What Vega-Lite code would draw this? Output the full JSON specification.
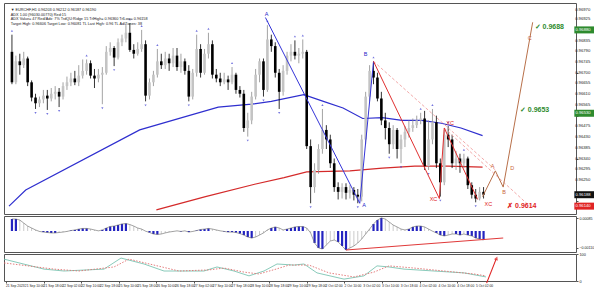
{
"$schema":"https://vega.github.io/schema/vega-lite/v6.json",
"background":"white",
"padding":{"left":1,"top":2,"right":0,"bottom":0},
"spacing":2,
"bounds":"flush",
"config":{"view":{"stroke":"#555","strokeWidth":1},"font":"Liberation Sans","axis":{"labelFont":"Liberation Sans","labelColor":"#222","domainColor":"#555","tickColor":"#555","labelOverlap":false,"labelFlush":false}},
"datasets":{
"bars":[
{"i":0,"o":0.96788,"h":0.9686,"l":0.96652,"c":0.9666,"m":0.0008},
{"i":1,"o":0.9666,"h":0.96772,"l":0.96652,"c":0.96748,"m":0.0008},
{"i":2,"o":0.96748,"h":0.9678,"l":0.96692,"c":0.96732,"m":0.00073},
{"i":3,"o":0.96732,"h":0.96788,"l":0.9672,"c":0.9676,"m":0.00053},
{"i":4,"o":0.9676,"h":0.96768,"l":0.96644,"c":0.9666,"m":0.00033},
{"i":5,"o":0.9666,"h":0.96668,"l":0.9658,"c":0.96596,"m":0.0002},
{"i":6,"o":0.96596,"h":0.96612,"l":0.96548,"c":0.96572,"m":0.00007},
{"i":7,"o":0.96572,"h":0.966,"l":0.96556,"c":0.96588,"m":-0.00003},
{"i":8,"o":0.96588,"h":0.96628,"l":0.96572,"c":0.96604,"m":-0.00007},
{"i":9,"o":0.96604,"h":0.96628,"l":0.96544,"c":0.96592,"m":-0.0001},
{"i":10,"o":0.96592,"h":0.96636,"l":0.9658,"c":0.96612,"m":-0.00013},
{"i":11,"o":0.96612,"h":0.96644,"l":0.96588,"c":0.9662,"m":-0.00013},
{"i":12,"o":0.9662,"h":0.96636,"l":0.96556,"c":0.966,"m":-0.0001},
{"i":13,"o":0.966,"h":0.9666,"l":0.96588,"c":0.96644,"m":-0.00007},
{"i":14,"o":0.96644,"h":0.96684,"l":0.96628,"c":0.9666,"m":-0.00003},
{"i":15,"o":0.9666,"h":0.967,"l":0.96644,"c":0.96676,"m":0.00003},
{"i":16,"o":0.96676,"h":0.96708,"l":0.96648,"c":0.9666,"m":0.00007},
{"i":17,"o":0.9666,"h":0.96732,"l":0.96644,"c":0.96688,"m":0.00013},
{"i":18,"o":0.96688,"h":0.96756,"l":0.96676,"c":0.96708,"m":0.00017},
{"i":19,"o":0.96708,"h":0.96756,"l":0.96692,"c":0.9674,"m":0.00017},
{"i":20,"o":0.9674,"h":0.96752,"l":0.96676,"c":0.96688,"m":0.00013},
{"i":21,"o":0.96688,"h":0.96716,"l":0.96636,"c":0.96676,"m":0.00007},
{"i":22,"o":0.96676,"h":0.96716,"l":0.9666,"c":0.96692,"m":0.00001},
{"i":23,"o":0.96692,"h":0.96724,"l":0.96568,"c":0.967,"m":0.00007},
{"i":24,"o":0.967,"h":0.96812,"l":0.96692,"c":0.96788,"m":0.0002},
{"i":25,"o":0.96788,"h":0.96828,"l":0.96772,"c":0.96804,"m":0.0003},
{"i":26,"o":0.96804,"h":0.96812,"l":0.96728,"c":0.96764,"m":0.00033},
{"i":27,"o":0.96764,"h":0.96844,"l":0.96756,"c":0.96828,"m":0.0004},
{"i":28,"o":0.96828,"h":0.9686,"l":0.96812,"c":0.96844,"m":0.00047},
{"i":29,"o":0.96844,"h":0.969,"l":0.96828,"c":0.96868,"m":0.0005},
{"i":30,"o":0.96868,"h":0.96908,"l":0.96788,"c":0.96796,"m":0.00043},
{"i":31,"o":0.96796,"h":0.9682,"l":0.9676,"c":0.9678,"m":0.00033},
{"i":32,"o":0.9678,"h":0.96828,"l":0.96772,"c":0.968,"m":0.0002},
{"i":33,"o":0.968,"h":0.9688,"l":0.96788,"c":0.9682,"m":0.00013},
{"i":34,"o":0.9682,"h":0.96836,"l":0.9658,"c":0.96604,"m":-0.00001},
{"i":35,"o":0.96604,"h":0.96676,"l":0.96588,"c":0.9666,"m":-0.0001},
{"i":36,"o":0.9666,"h":0.96708,"l":0.96644,"c":0.96692,"m":-0.0002},
{"i":37,"o":0.96692,"h":0.968,"l":0.9668,"c":0.96748,"m":-0.00023},
{"i":38,"o":0.96748,"h":0.9678,"l":0.96716,"c":0.96732,"m":-0.0002},
{"i":39,"o":0.96732,"h":0.96788,"l":0.96716,"c":0.9676,"m":-0.00013},
{"i":40,"o":0.9676,"h":0.9678,"l":0.96708,"c":0.9674,"m":-0.00007},
{"i":41,"o":0.9674,"h":0.96804,"l":0.96724,"c":0.96772,"m":-0.00003},
{"i":42,"o":0.96772,"h":0.96804,"l":0.96708,"c":0.96724,"m":0.00001},
{"i":43,"o":0.96724,"h":0.9678,"l":0.967,"c":0.96748,"m":-0.00003},
{"i":44,"o":0.96748,"h":0.9676,"l":0.96692,"c":0.96708,"m":0.00001},
{"i":45,"o":0.96708,"h":0.96732,"l":0.9658,"c":0.966,"m":-0.00007},
{"i":46,"o":0.966,"h":0.96716,"l":0.96588,"c":0.967,"m":-0.00003},
{"i":47,"o":0.967,"h":0.9686,"l":0.96684,"c":0.968,"m":0.00003},
{"i":48,"o":0.968,"h":0.9682,"l":0.9668,"c":0.967,"m":0.0001},
{"i":49,"o":0.967,"h":0.968,"l":0.96692,"c":0.9678,"m":0.00013},
{"i":50,"o":0.9678,"h":0.96868,"l":0.9676,"c":0.9682,"m":0.00017},
{"i":51,"o":0.9682,"h":0.96836,"l":0.96676,"c":0.96692,"m":0.00013},
{"i":52,"o":0.96692,"h":0.96716,"l":0.9666,"c":0.96676,"m":0.00007},
{"i":53,"o":0.96676,"h":0.967,"l":0.96644,"c":0.9666,"m":0.00001},
{"i":54,"o":0.9666,"h":0.967,"l":0.96652,"c":0.96672,"m":-0.00003},
{"i":55,"o":0.96672,"h":0.96688,"l":0.96628,"c":0.9666,"m":-0.00007},
{"i":56,"o":0.9666,"h":0.96724,"l":0.96652,"c":0.96692,"m":-0.00007},
{"i":57,"o":0.96692,"h":0.967,"l":0.96612,"c":0.96628,"m":-0.0001},
{"i":58,"o":0.96628,"h":0.96644,"l":0.96596,"c":0.96612,"m":-0.00017},
{"i":59,"o":0.96612,"h":0.96628,"l":0.96452,"c":0.96468,"m":-0.00027},
{"i":60,"o":0.96468,"h":0.96532,"l":0.96432,"c":0.965,"m":-0.0004},
{"i":61,"o":0.965,"h":0.9662,"l":0.96484,"c":0.966,"m":-0.00047},
{"i":62,"o":0.966,"h":0.96716,"l":0.96588,"c":0.96692,"m":-0.0004},
{"i":63,"o":0.96692,"h":0.9676,"l":0.9666,"c":0.96748,"m":-0.00027},
{"i":64,"o":0.96748,"h":0.9676,"l":0.966,"c":0.96628,"m":-0.00013},
{"i":65,"o":0.96628,"h":0.969,"l":0.9662,"c":0.9684,"m":0.00007},
{"i":66,"o":0.9684,"h":0.9686,"l":0.96788,"c":0.96812,"m":0.0002},
{"i":67,"o":0.96812,"h":0.96828,"l":0.9668,"c":0.967,"m":0.00027},
{"i":68,"o":0.967,"h":0.96716,"l":0.96548,"c":0.9662,"m":0.0002},
{"i":69,"o":0.9662,"h":0.96732,"l":0.96604,"c":0.96708,"m":0.00007},
{"i":70,"o":0.96708,"h":0.96788,"l":0.96692,"c":0.96772,"m":0.00013},
{"i":71,"o":0.96772,"h":0.9682,"l":0.96748,"c":0.96788,"m":0.0002},
{"i":72,"o":0.96788,"h":0.96836,"l":0.96756,"c":0.96772,"m":0.00027},
{"i":73,"o":0.96772,"h":0.96804,"l":0.9674,"c":0.9678,"m":0.0003},
{"i":74,"o":0.9678,"h":0.9684,"l":0.9676,"c":0.96788,"m":0.0003},
{"i":75,"o":0.96788,"h":0.96796,"l":0.9638,"c":0.96392,"m":0.0002},
{"i":76,"o":0.96392,"h":0.9642,"l":0.96152,"c":0.9622,"m":-0.00013},
{"i":77,"o":0.9622,"h":0.9632,"l":0.96196,"c":0.96292,"m":-0.0008},
{"i":78,"o":0.96292,"h":0.964,"l":0.96276,"c":0.9638,"m":-0.00113},
{"i":79,"o":0.9638,"h":0.96548,"l":0.9636,"c":0.9646,"m":-0.0012},
{"i":80,"o":0.9646,"h":0.9648,"l":0.9638,"c":0.9642,"m":-0.00093},
{"i":81,"o":0.9642,"h":0.9644,"l":0.963,"c":0.9632,"m":-0.00067},
{"i":82,"o":0.9632,"h":0.9634,"l":0.962,"c":0.9622,"m":-0.0006},
{"i":83,"o":0.9622,"h":0.9624,"l":0.96168,"c":0.962,"m":-0.00073},
{"i":84,"o":0.962,"h":0.96236,"l":0.96172,"c":0.9622,"m":-0.001},
{"i":85,"o":0.9622,"h":0.96236,"l":0.96168,"c":0.96196,"m":-0.00127},
{"i":86,"o":0.96196,"h":0.96228,"l":0.96172,"c":0.96208,"m":-0.00113},
{"i":87,"o":0.96208,"h":0.9622,"l":0.96164,"c":0.96188,"m":-0.001},
{"i":88,"o":0.96188,"h":0.96212,"l":0.96152,"c":0.9618,"m":-0.0008},
{"i":89,"o":0.9618,"h":0.9644,"l":0.9616,"c":0.9642,"m":-0.00053},
{"i":90,"o":0.9642,"h":0.9662,"l":0.964,"c":0.966,"m":-0.0002},
{"i":91,"o":0.966,"h":0.96732,"l":0.9658,"c":0.96708,"m":0.00013},
{"i":92,"o":0.96708,"h":0.96748,"l":0.96652,"c":0.9668,"m":0.00047},
{"i":93,"o":0.9668,"h":0.967,"l":0.9658,"c":0.96592,"m":0.00073},
{"i":94,"o":0.96592,"h":0.9662,"l":0.9648,"c":0.965,"m":0.00087},
{"i":95,"o":0.965,"h":0.96532,"l":0.9642,"c":0.96468,"m":0.0008},
{"i":96,"o":0.96468,"h":0.96492,"l":0.9636,"c":0.964,"m":0.0006},
{"i":97,"o":0.964,"h":0.9648,"l":0.9638,"c":0.9646,"m":0.0004},
{"i":98,"o":0.9646,"h":0.96468,"l":0.9634,"c":0.9638,"m":0.00027},
{"i":99,"o":0.9638,"h":0.9644,"l":0.9632,"c":0.9642,"m":0.00013},
{"i":100,"o":0.9642,"h":0.96476,"l":0.96388,"c":0.96452,"m":0.00007},
{"i":101,"o":0.96452,"h":0.965,"l":0.96428,"c":0.96468,"m":0.00013},
{"i":102,"o":0.96468,"h":0.96508,"l":0.96452,"c":0.9648,"m":0.00027},
{"i":103,"o":0.9648,"h":0.9652,"l":0.96468,"c":0.965,"m":0.00033},
{"i":104,"o":0.965,"h":0.96532,"l":0.96484,"c":0.96508,"m":0.00033},
{"i":105,"o":0.96508,"h":0.9654,"l":0.96292,"c":0.96308,"m":0.00027},
{"i":106,"o":0.96308,"h":0.965,"l":0.96292,"c":0.9642,"m":0.00013},
{"i":107,"o":0.9642,"h":0.96548,"l":0.964,"c":0.96492,"m":-0.00001},
{"i":108,"o":0.96492,"h":0.9652,"l":0.963,"c":0.9632,"m":-0.00013},
{"i":109,"o":0.9632,"h":0.9634,"l":0.9618,"c":0.9624,"m":-0.00027},
{"i":110,"o":0.9624,"h":0.9646,"l":0.96228,"c":0.9644,"m":-0.00033},
{"i":111,"o":0.9644,"h":0.96476,"l":0.96388,"c":0.9642,"m":-0.00027},
{"i":112,"o":0.9642,"h":0.9644,"l":0.963,"c":0.9632,"m":-0.0002},
{"i":113,"o":0.9632,"h":0.96372,"l":0.96292,"c":0.9634,"m":-0.0002},
{"i":114,"o":0.9634,"h":0.9636,"l":0.9628,"c":0.9632,"m":-0.00027},
{"i":115,"o":0.9632,"h":0.9636,"l":0.963,"c":0.9634,"m":-0.0002},
{"i":116,"o":0.9634,"h":0.96348,"l":0.96212,"c":0.96228,"m":-0.00027},
{"i":117,"o":0.96228,"h":0.9624,"l":0.96172,"c":0.96188,"m":-0.00033},
{"i":118,"o":0.96188,"h":0.96212,"l":0.96156,"c":0.96172,"m":-0.00047},
{"i":119,"o":0.96172,"h":0.9622,"l":0.96164,"c":0.962,"m":-0.00053},
{"i":120,"o":0.962,"h":0.9622,"l":0.96172,"c":0.96188,"m":-0.0006}
],
"maB":[{"i":-0.75,"p":0.9614},{"i":3.5,"p":0.96208},{"i":32.5,"p":0.9646},{"i":45,"p":0.9652},{"i":52.5,"p":0.96556},{"i":61,"p":0.96568},{"i":66,"p":0.9658},{"i":74.25,"p":0.96608},{"i":79.25,"p":0.9658},{"i":84.25,"p":0.96552},{"i":89.25,"p":0.96508},{"i":94.25,"p":0.96512},{"i":99.25,"p":0.965},{"i":104.25,"p":0.965},{"i":109.25,"p":0.96488},{"i":114.25,"p":0.96468},{"i":119.75,"p":0.96436}],
"maR":[{"i":36.75,"p":0.96124},{"i":49.25,"p":0.9618},{"i":61.75,"p":0.96232},{"i":69.25,"p":0.9626},{"i":75,"p":0.96284},{"i":86,"p":0.96288},{"i":94.25,"p":0.963},{"i":102.5,"p":0.96308},{"i":111,"p":0.96308},{"i":119.75,"p":0.96304}],
"zigB":[{"i":64.5,"p":0.96932},{"i":88.5,"p":0.96152},{"i":92,"p":0.96748}],
"zigR":[{"i":92,"p":0.96748},{"i":108.75,"p":0.96172},{"i":110,"p":0.96468},{"i":118.5,"p":0.96168}],
"dash":[{"g":1,"i":92,"p":0.96748},{"g":1,"i":123,"p":0.96292},{"g":2,"i":110,"p":0.96468},{"g":2,"i":131.75,"p":0.9614}],
"proj":[{"i":119.75,"p":0.9618},{"i":123,"p":0.96288},{"i":125,"p":0.9622},{"i":132.5,"p":0.96912}],
"frac":[
{"i":0,"p":0.9686,"d":"up"},{"i":19,"p":0.96756,"d":"up"},{"i":30,"p":0.96908,"d":"up"},{"i":33,"p":0.9688,"d":"up"},{"i":37,"p":0.968,"d":"up"},{"i":47,"p":0.9686,"d":"up"},{"i":50,"p":0.96868,"d":"up"},{"i":56,"p":0.96724,"d":"up"},{"i":65,"p":0.969,"d":"up"},{"i":72,"p":0.96836,"d":"up"},{"i":74,"p":0.9684,"d":"up"},{"i":79,"p":0.96548,"d":"up"},{"i":92,"p":0.96748,"d":"up"},{"i":104,"p":0.96532,"d":"up"},{"i":107,"p":0.96548,"d":"up"},{"i":111,"p":0.96476,"d":"up"},{"i":115,"p":0.9636,"d":"up"},
{"i":6,"p":0.96548,"d":"dn"},{"i":9,"p":0.96544,"d":"dn"},{"i":12,"p":0.96556,"d":"dn"},{"i":23,"p":0.96568,"d":"dn"},{"i":26,"p":0.96728,"d":"dn"},{"i":34,"p":0.9658,"d":"dn"},{"i":45,"p":0.9658,"d":"dn"},{"i":60,"p":0.96432,"d":"dn"},{"i":64,"p":0.966,"d":"dn"},{"i":68,"p":0.96548,"d":"dn"},{"i":76,"p":0.96152,"d":"dn"},{"i":88,"p":0.96152,"d":"dn"},{"i":96,"p":0.9636,"d":"dn"},{"i":99,"p":0.9632,"d":"dn"},{"i":106,"p":0.96292,"d":"dn"},{"i":109,"p":0.9618,"d":"dn"},{"i":118,"p":0.96156,"d":"dn"}],
"lbl":[{"i":64.8,"p":0.96946,"t":"A","k":"b"},{"i":89.6,"p":0.96146,"t":"A","k":"b"},{"i":90,"p":0.9678,"t":"B","k":"b"},{"i":107.25,"p":0.96168,"t":"XC","k":"r"},{"i":111.5,"p":0.96488,"t":"XC","k":"r"},{"i":121.2,"p":0.96148,"t":"XC","k":"r"},{"i":122.3,"p":0.96308,"t":"A","k":"o"},{"i":125.2,"p":0.962,"t":"B","k":"o"},{"i":127.3,"p":0.963,"t":"D","k":"o"},{"i":131.75,"p":0.96848,"t":"C","k":"o"}],
"plbl":[{"i":133,"p":0.96892,"t":"✓ 0.9688","k":"g"},{"i":129.25,"p":0.96544,"t":"✓ 0.9653","k":"g"},{"i":126,"p":0.9614,"t":"✗ 0.9614","k":"r"}],
"info":[{"i":-0.3,"p":0.96962,"t":"▼ EURCHF,H1 0.96203 0.96212 0.96187 0.96190"},{"i":-0.3,"p":0.96943,"t":"ADX 1.00 (96030.00770) Red:15"},{"i":-0.3,"p":0.96924,"t":"ADX Value= 47  Red/Adx: 7%  TrdQU:Ridge 15  TrlHigh= 0.96360  TrlLow= 0.96158"},{"i":-0.3,"p":0.96905,"t":"Target High: 0.96606  Target Low: 0.96081  TL Last High: 0.96  TL Ad/Zones: 38"}],
"tags":[{"p":0.9688,"t":"0.96880","k":"g"},{"p":0.9653,"t":"0.96530","k":"g"},{"p":0.96188,"t":"0.96188","k":"k"},{"p":0.9614,"t":"0.96140","k":"r"}],
"ylab":[{"p":0.9625,"t":"0.96250"},{"p":0.96295,"t":"0.96295"},{"p":0.9634,"t":"0.96340"},{"p":0.96385,"t":"0.96385"},{"p":0.9643,"t":"0.96430"},{"p":0.96475,"t":"0.96475"},{"p":0.96565,"t":"0.96565"},{"p":0.9661,"t":"0.96610"},{"p":0.96655,"t":"0.96655"},{"p":0.967,"t":"0.96700"},{"p":0.96745,"t":"0.96745"},{"p":0.9679,"t":"0.96790"},{"p":0.96835,"t":"0.96835"},{"p":0.96925,"t":"0.96925"},{"p":0.96965,"t":"0.96970"}],
"xlab":[{"i":-0.25,"t":"21 Sep 2023"},{"i":4.45,"t":"21 Sep 10:00"},{"i":9.15,"t":"21 Sep 18:00"},{"i":13.85,"t":"22 Sep 02:00"},{"i":18.55,"t":"22 Sep 10:00"},{"i":23.25,"t":"22 Sep 18:00"},{"i":27.95,"t":"25 Sep 10:00"},{"i":32.65,"t":"25 Sep 18:00"},{"i":37.35,"t":"26 Sep 10:00"},{"i":42.05,"t":"26 Sep 18:00"},{"i":46.75,"t":"27 Sep 02:00"},{"i":51.45,"t":"27 Sep 10:00"},{"i":56.15,"t":"27 Sep 18:00"},{"i":60.85,"t":"28 Sep 10:00"},{"i":65.55,"t":"28 Sep 18:00"},{"i":70.25,"t":"29 Sep 10:00"},{"i":74.95,"t":"29 Sep 18:00"},{"i":79.65,"t":"2 Oct 02:00"},{"i":84.35,"t":"2 Oct 10:00"},{"i":89.05,"t":"3 Oct 02:00"},{"i":93.75,"t":"3 Oct 10:00"},{"i":98.45,"t":"3 Oct 18:00"},{"i":103.15,"t":"4 Oct 02:00"},{"i":107.85,"t":"4 Oct 10:00"},{"i":112.55,"t":"4 Oct 18:00"},{"i":117.25,"t":"5 Oct 02:00"}],
"macdT":[{"i":85,"m":-0.00127},{"i":125,"m":-0.00047}],
"stK":[{"i":-0.75,"v":81},{"i":9.25,"v":44},{"i":14.25,"v":37},{"i":24.25,"v":44},{"i":28.5,"v":85},{"i":34.25,"v":63},{"i":39.25,"v":37},{"i":49.25,"v":37},{"i":52.5,"v":52},{"i":56.75,"v":37},{"i":60.5,"v":19},{"i":64.25,"v":37},{"i":67.5,"v":63},{"i":71.75,"v":59},{"i":74.25,"v":63},{"i":77.5,"v":30},{"i":84.25,"v":7},{"i":89.25,"v":19},{"i":92.5,"v":56},{"i":95.5,"v":52},{"i":99.25,"v":44},{"i":106.75,"v":37},{"i":114.25,"v":30},{"i":119.75,"v":15}],
"stD":[{"i":-0.75,"v":67},{"i":11.75,"v":44},{"i":18,"v":37},{"i":26.75,"v":52},{"i":30.5,"v":81},{"i":36.75,"v":59},{"i":43,"v":37},{"i":50.5,"v":41},{"i":54.25,"v":48},{"i":59.25,"v":33},{"i":63,"v":26},{"i":67.25,"v":44},{"i":70.5,"v":59},{"i":75.5,"v":59},{"i":80.5,"v":30},{"i":86.75,"v":15},{"i":91.75,"v":33},{"i":95.5,"v":56},{"i":101.75,"v":48},{"i":109.25,"v":37},{"i":116.75,"v":26},{"i":119.75,"v":19}],
"arrow":[{"i":119.9,"v":-8},{"i":122.3,"v":82}],
"arrowHead":[{"i":122.4,"v":84}]
},
"vconcat":[
{"width":572,"height":211,
"layer":[
{"mark":{"type":"rule","color":"#e4e4e4","strokeWidth":0.8},"encoding":{"x":{"datum":114.25,"type":"quantitative","scale":{"domain":[-0.75,142.25],"nice":false,"zero":false},"axis":null}}},
{"mark":{"type":"rule","color":"#bdbdbd","strokeWidth":0.8},"encoding":{"y":{"datum":0.96188,"type":"quantitative","scale":{"domain":[0.96128,0.96972],"nice":false,"zero":false},"axis":{"orient":"right","title":null,"values":[0.9616,0.96205,0.9625,0.96295,0.9634,0.96385,0.9643,0.96475,0.9652,0.96565,0.9661,0.96655,0.967,0.96745,0.9679,0.96835,0.9688,0.96925,0.9697],"labels":false,"tickSize":2,"grid":false,"domain":false}}}},
{"mark":{"type":"rule","color":"#3f9a3f","strokeWidth":1},"encoding":{"y":{"datum":0.9688,"type":"quantitative"}}},
{"mark":{"type":"rule","color":"#3f9a3f","strokeWidth":1},"encoding":{"y":{"datum":0.9653,"type":"quantitative"}}},
{"mark":{"type":"rule","color":"#e83a3a","strokeWidth":1.6},"encoding":{"y":{"datum":0.9614,"type":"quantitative"}}},
{"mark":{"type":"rule","color":"#f0a848","strokeWidth":0.8,"strokeDash":[1.5,1.5]},"encoding":{"x":{"datum":114.25,"type":"quantitative","axis":null},"x2":{"datum":142.25},"y":{"datum":0.96624,"type":"quantitative"}}},
{"mark":{"type":"text","color":"#f0a040","fontSize":4.5,"align":"center","baseline":"middle"},"encoding":{"x":{"datum":122.5,"type":"quantitative","axis":null},"y":{"datum":0.96624,"type":"quantitative"},"text":{"value":"161.8 ext 0.9662"}}},
{"data":{"name":"maB"},"mark":{"type":"line","color":"#2f2fcf","strokeWidth":1.2,"clip":true},"encoding":{"x":{"field":"i","type":"quantitative","axis":null},"y":{"field":"p","type":"quantitative"}}},
{"data":{"name":"maR"},"mark":{"type":"line","color":"#d42a2a","strokeWidth":1.2,"clip":true},"encoding":{"x":{"field":"i","type":"quantitative","axis":null},"y":{"field":"p","type":"quantitative"}}},
{"data":{"name":"bars"},"mark":{"type":"rule","strokeWidth":0.8},"encoding":{"x":{"field":"i","type":"quantitative","axis":null},"y":{"field":"l","type":"quantitative"},"y2":{"field":"h"},"color":{"condition":{"test":"datum.c>=datum.o","value":"#8c8c8c"},"value":"#000000"}}},
{"data":{"name":"bars"},"mark":{"type":"bar","width":2.6},"encoding":{"x":{"field":"i","type":"quantitative","axis":null},"y":{"field":"o","type":"quantitative"},"y2":{"field":"c"},"color":{"condition":{"test":"datum.c>=datum.o","value":"#c4c4c4"},"value":"#000000"}}},
{"data":{"name":"frac"},"transform":[{"filter":"datum.d=='up'"}],"mark":{"type":"point","shape":"triangle-up","filled":true,"size":5,"color":"#3a3ad0","yOffset":-4},"encoding":{"x":{"field":"i","type":"quantitative","axis":null},"y":{"field":"p","type":"quantitative"}}},
{"data":{"name":"frac"},"transform":[{"filter":"datum.d=='dn'"}],"mark":{"type":"point","shape":"triangle-down","filled":true,"size":5,"color":"#3a3ad0","yOffset":4},"encoding":{"x":{"field":"i","type":"quantitative","axis":null},"y":{"field":"p","type":"quantitative"}}},
{"data":{"name":"dash"},"mark":{"type":"line","color":"#f0a0a0","strokeWidth":0.9,"strokeDash":[3,2]},"encoding":{"x":{"field":"i","type":"quantitative","axis":null},"y":{"field":"p","type":"quantitative"},"detail":{"field":"g"}}},
{"data":{"name":"zigB"},"mark":{"type":"line","color":"#3535d8","strokeWidth":1},"encoding":{"x":{"field":"i","type":"quantitative","axis":null},"y":{"field":"p","type":"quantitative"}}},
{"data":{"name":"zigR"},"mark":{"type":"line","color":"#e03030","strokeWidth":1},"encoding":{"x":{"field":"i","type":"quantitative","axis":null},"y":{"field":"p","type":"quantitative"}}},
{"data":{"name":"proj"},"mark":{"type":"line","color":"#b8704a","strokeWidth":1},"encoding":{"x":{"field":"i","type":"quantitative","axis":null},"y":{"field":"p","type":"quantitative"}}},
{"mark":{"type":"rule","color":"#b8704a","strokeWidth":0.9},"encoding":{"x":{"datum":123,"type":"quantitative","axis":null},"x2":{"datum":131.75},"y":{"datum":0.9628,"type":"quantitative"}}},
{"data":{"name":"lbl"},"mark":{"type":"text","fontSize":5.5,"align":"center","baseline":"middle"},"encoding":{"x":{"field":"i","type":"quantitative","axis":null},"y":{"field":"p","type":"quantitative"},"text":{"field":"t"},"color":{"field":"k","type":"nominal","scale":{"domain":["b","r","o","g","k"],"range":["#2626c8","#e02424","#c8643c","#2e8b2e","#111111"]},"legend":null}}},
{"data":{"name":"plbl"},"mark":{"type":"text","fontSize":7,"fontWeight":"bold","align":"left","baseline":"middle"},"encoding":{"x":{"field":"i","type":"quantitative","axis":null},"y":{"field":"p","type":"quantitative"},"text":{"field":"t"},"color":{"field":"k","type":"nominal","legend":null}}},
{"data":{"name":"info"},"mark":{"type":"text","fontSize":3.8,"align":"left","baseline":"middle","color":"#222"},"encoding":{"x":{"field":"i","type":"quantitative","axis":null},"y":{"field":"p","type":"quantitative"},"text":{"field":"t"}}},
{"data":{"name":"ylab"},"mark":{"type":"text","fontSize":4.2,"align":"left","baseline":"middle","color":"#222"},"encoding":{"y":{"field":"p","type":"quantitative"},"x":{"datum":143.3,"type":"quantitative","axis":null},"text":{"field":"t"}}},
{"data":{"name":"tags"},"mark":{"type":"bar","height":7},"encoding":{"y":{"field":"p","type":"quantitative"},"x":{"datum":143.1,"type":"quantitative","axis":null},"x2":{"datum":148.4},"color":{"field":"k","type":"nominal","legend":null}}},
{"data":{"name":"tags"},"mark":{"type":"text","fontSize":4.2,"align":"left","baseline":"middle","color":"white"},"encoding":{"y":{"field":"p","type":"quantitative"},"x":{"datum":143.4,"type":"quantitative","axis":null},"text":{"field":"t"}}}
]},
{"width":572,"height":36,
"layer":[
{"mark":{"type":"rule","color":"#e4e4e4","strokeWidth":0.8},"encoding":{"x":{"datum":114.25,"type":"quantitative","scale":{"domain":[-0.75,142.25],"nice":false,"zero":false},"axis":null}}},
{"data":{"name":"bars"},"mark":{"type":"rule","color":"#a8a8a8","strokeWidth":0.6},"encoding":{"x":{"field":"i","type":"quantitative","axis":null},"y":{"field":"m","type":"quantitative","scale":{"domain":[-0.0014,0.001],"nice":false,"zero":false},"axis":{"orient":"right","title":null,"values":[-0.0011,0,0.00085],"labelExpr":"datum.value==0?'0.00':format(datum.value,'.5f')","labelFontSize":3.6,"tickSize":2,"labelPadding":1,"grid":false,"domain":false,"labelFlush":false,"labelOverlap":false}},"y2":{"datum":0}}},
{"data":{"name":"bars"},"transform":[{"window":[{"op":"lag","field":"m","as":"pm"}],"sort":[{"field":"i","order":"ascending"}]},{"filter":"abs(datum.m) >= abs(datum.pm || 0)"}],"mark":{"type":"bar","width":2.2,"color":"#2323c0"},"encoding":{"x":{"field":"i","type":"quantitative","axis":null},"y":{"field":"m","type":"quantitative"},"y2":{"datum":0}}},
{"data":{"name":"bars"},"mark":{"type":"line","color":"#666","strokeWidth":0.6},"encoding":{"x":{"field":"i","type":"quantitative","axis":null},"y":{"field":"m","type":"quantitative"}}},
{"data":{"name":"macdT"},"mark":{"type":"line","color":"#e03a3a","strokeWidth":1.1},"encoding":{"x":{"field":"i","type":"quantitative","axis":null},"y":{"field":"m","type":"quantitative"}}},
{"mark":{"type":"text","fontSize":3.8,"align":"left","baseline":"middle","color":"#222"},"encoding":{"x":{"datum":3,"type":"quantitative","axis":null},"y":{"datum":0.00085,"type":"quantitative"},"text":{"value":"-0.000418"}}}
]},
{"width":572,"height":27,
"layer":[
{"mark":{"type":"rule","color":"#e4e4e4","strokeWidth":0.8},"encoding":{"x":{"datum":114.25,"type":"quantitative","scale":{"domain":[-0.75,142.25],"nice":false,"zero":false},"axis":{"orient":"bottom","title":null,"values":[-0.25,4.45,9.15,13.85,18.55,23.25,27.95,32.65,37.35,42.05,46.75,51.45,56.15,60.85,65.55,70.25,74.95,79.65,84.35,89.05,93.75,98.45,103.15,107.85,112.55,117.25],"labels":false,"tickSize":2,"grid":false,"domain":false}}}},
{"data":{"name":"stK"},"mark":{"type":"line","color":"#7cc4b2","strokeWidth":0.9},"encoding":{"x":{"field":"i","type":"quantitative"},"y":{"field":"v","type":"quantitative","scale":{"domain":[0,100],"nice":false,"zero":false},"axis":{"orient":"right","title":null,"values":[0,20,80,100],"labelFontSize":3.8,"tickSize":2,"labelPadding":1,"grid":false,"domain":false,"labelFlush":false,"labelOverlap":false}}}},
{"data":{"name":"stD"},"mark":{"type":"line","color":"#e07070","strokeWidth":0.9,"strokeDash":[1.5,1.5]},"encoding":{"x":{"field":"i","type":"quantitative"},"y":{"field":"v","type":"quantitative"}}},
{"data":{"name":"arrow"},"mark":{"type":"line","color":"#e02020","strokeWidth":1.1},"encoding":{"x":{"field":"i","type":"quantitative"},"y":{"field":"v","type":"quantitative"}}},
{"data":{"name":"arrowHead"},"mark":{"type":"point","shape":"triangle-up","filled":true,"size":18,"color":"#e02020","angle":22},"encoding":{"x":{"field":"i","type":"quantitative"},"y":{"field":"v","type":"quantitative"}}},
{"data":{"name":"xlab"},"mark":{"type":"text","fontSize":3.3,"align":"left","baseline":"middle","color":"#222"},"encoding":{"x":{"field":"i","type":"quantitative"},"y":{"datum":-18,"type":"quantitative"},"text":{"field":"t"}}},
{"mark":{"type":"text","fontSize":3.8,"align":"left","baseline":"middle","color":"#222"},"encoding":{"x":{"datum":-0.3,"type":"quantitative"},"y":{"datum":88,"type":"quantitative"},"text":{"value":"Stoch(8,3,3) 14.9968 21.1888"}}}
]}
]
}
